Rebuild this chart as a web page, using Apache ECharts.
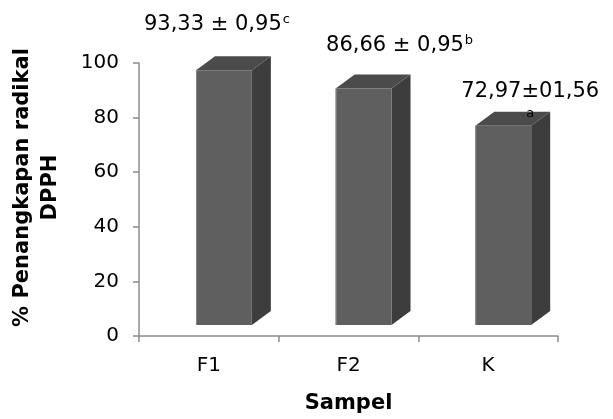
<!DOCTYPE html>
<html>
<head>
<meta charset="utf-8">
<script src="https://cdn.jsdelivr.net/npm/echarts@6/dist/echarts.min.js"></script>
<style>html,body{margin:0;padding:0;background:#fff}#c{width:613px;height:419px}</style>
</head>
<body>
<div id="c"></div>
<script>
const categories = ['F1', 'F2', 'K'];
const values = [93.33, 86.66, 72.97];
const labelMain = ['93,33 ± 0,95', '86,66 ± 0,95', '72,97±01,56'];
const labelSup = ['c', 'b', ''];
const labelBelow = ['', '', 'a'];
const labelShift = [[-7, -46], [36, -43], [27, -25]];
const yTicks = [0, 20, 40, 60, 80, 100];

const chart = echarts.init(document.getElementById('c'), null, {renderer: 'canvas'});
const FONT = 'DejaVu Sans';

function renderItem(params, api) {
  const i = api.value(0);
  const v = api.value(1);
  const top = api.coord([i, v]);
  const base = api.coord([i, 0]);
  const bw = api.size([1, 0])[0];
  const fw = bw * 0.40;
  const cx = top[0] + bw * 0.108;
  const dy = -11, ddx = 19, ddy = -14;
  const x0 = cx - fw / 2, x1 = cx + fw / 2;
  const yT = top[1] + dy, yB = base[1] + dy;
  let txt = '{m|' + labelMain[i] + '}';
  if (labelSup[i]) txt += '{s|' + labelSup[i] + '}';
  if (labelBelow[i]) txt += '\n{u|' + labelBelow[i] + '}';
  return {
    type: 'group',
    children: [
      {type: 'polygon', shape: {points: [[x1, yT], [x1 + ddx, yT + ddy], [x1 + ddx, yB + ddy], [x1, yB]]},
        style: {fill: '#3d3d3d'}},
      {type: 'polygon', shape: {points: [[x0, yT], [x1, yT], [x1 + ddx, yT + ddy], [x0 + ddx, yT + ddy]]},
        style: {fill: '#4b4b4b'}},
      {type: 'rect', shape: {x: x0, y: yT, width: fw, height: yB - yT},
        style: {fill: '#5f5f5f'}},
      {type: 'line', shape: {x1: x0 + 0.5, y1: yT, x2: x0 + 0.5, y2: yB},
        style: {stroke: '#8a8a8a', lineWidth: 1}},
      {type: 'text', style: {
        text: txt, x: cx + labelShift[i][0], y: yT + labelShift[i][1],
        align: 'center', verticalAlign: 'middle',
        rich: {
          m: {fontFamily: FONT, fontSize: 21, fill: '#000', lineHeight: 26},
          s: {fontFamily: FONT, fontSize: 13, fill: '#000', padding: [0, 0, 10, 1]},
          u: {fontFamily: FONT, fontSize: 13, fill: '#000', lineHeight: 18}
        }
      }}
    ]
  };
}

chart.setOption({
  animation: false,
  textStyle: {fontFamily: FONT},
  grid: {left: 139, right: 55, top: 63, bottom: 81},
  xAxis: {
    type: 'category', data: categories,
    axisLine: {lineStyle: {color: '#8c8c8c', width: 1.5}},
    axisTick: {show: true, length: 6, alignWithLabel: false, lineStyle: {color: '#8c8c8c', width: 1.5}},
    axisLabel: {fontFamily: FONT, fontSize: 20, color: '#000', margin: 20},
    name: 'Sampel', nameLocation: 'middle', nameGap: 57,
    nameTextStyle: {fontFamily: FONT, fontSize: 21, fontWeight: 'bold', color: '#000'}
  },
  yAxis: {
    type: 'value', min: 0, max: 100, interval: 20,
    axisLine: {show: true, lineStyle: {color: '#8c8c8c', width: 1.5}},
    axisTick: {show: true, length: 6, lineStyle: {color: '#8c8c8c', width: 1.5}},
    splitLine: {show: false},
    axisLabel: {fontFamily: FONT, fontSize: 20, color: '#000', margin: 20},
    name: '% Penangkapan radikal\nDPPH', nameLocation: 'middle', nameGap: 74,
    nameTextStyle: {fontFamily: FONT, fontSize: 21, fontWeight: 'bold', color: '#000', lineHeight: 28, padding: [0, 0, 0, 24]}
  },
  series: [{
    type: 'custom',
    renderItem: renderItem,
    data: categories.map((c, i) => [i, values[i]]),
    encode: {x: 0, y: 1},
    clip: false
  }]
});
</script>
</body>
</html>
